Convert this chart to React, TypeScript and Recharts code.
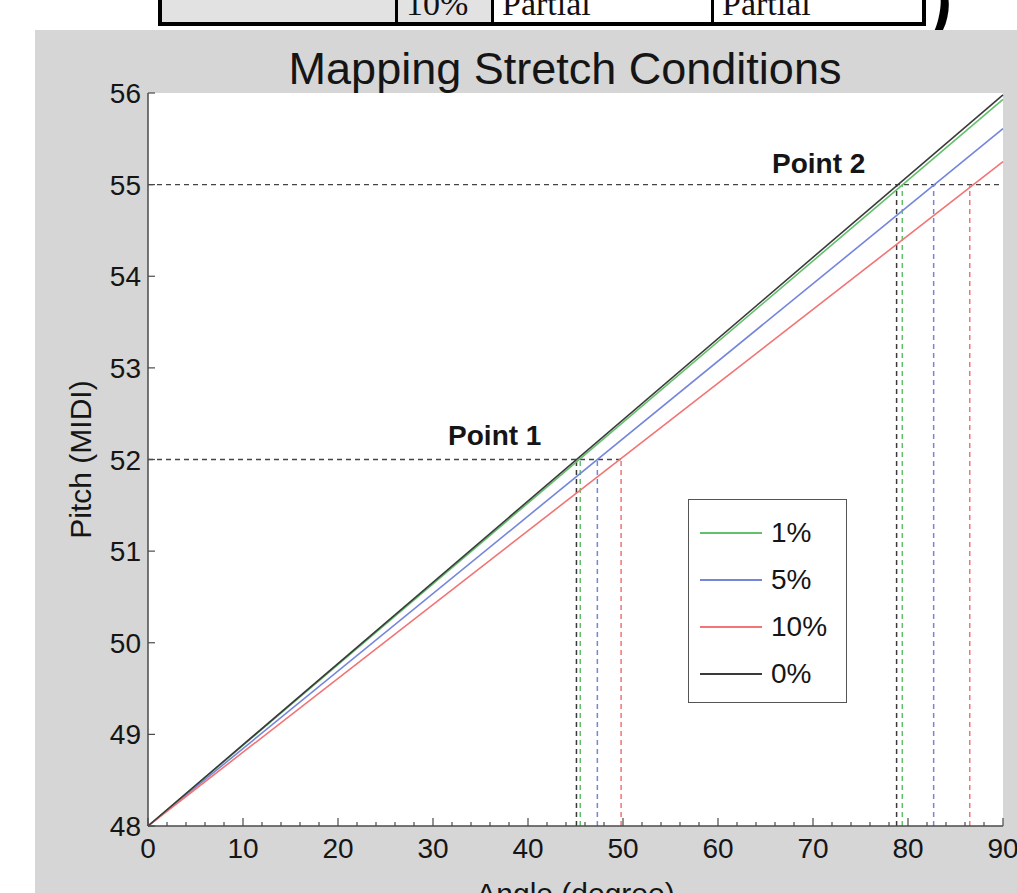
import React from "react";
import {
  LineChart,
  Line,
  XAxis,
  YAxis,
  CartesianGrid,
  ReferenceLine,
  ReferenceDot,
  Legend,
} from "recharts";

// angle (degree) -> pitch (MIDI), straight mappings
const angles = [0, 90];
const pitch1 = [48, 55.93];
const pitch5 = [48, 55.61];
const pitch10 = [48, 55.25];
const pitch0 = [48, 55.98];

const seriesNames = ["1%", "5%", "10%", "0%"];
const seriesKeys = ["s1", "s5", "s10", "s0"];
const seriesColors = ["#62c06a", "#7485db", "#f27474", "#3a3a3a"];

// where each mapping reaches the marked pitches (same order as seriesNames)
const point1Pitch = 52;
const point1Angles = [45.5, 47.3, 49.8, 45.1];
const point2Pitch = 55;
const point2Angles = [79.4, 82.7, 86.5, 78.8];

const pointLabels = ["Point 1", "Point 2"];
const pointLabelAngles = [36.5, 70.6];
const pointLabelPitches = [52.27, 55.24];

const xMajorTicks = [0, 10, 20, 30, 40, 50, 60, 70, 80, 90];
const xTicks = Array.from({ length: 46 }, (_, i) => i * 2);
const yTicks = [48, 49, 50, 51, 52, 53, 54, 55, 56];

// cut-off table row above the figure
const tableCells = ["", "10%", "Partial", "Partial"];
const tableCellWidths = [236, 96, 220, 216];
const tableCellShaded = [true, true, false, false];

const data = angles.map((a, i) => ({
  angle: a,
  s1: pitch1[i],
  s5: pitch5[i],
  s10: pitch10[i],
  s0: pitch0[i],
}));

const FONT = "'Liberation Sans', Arial, Helvetica, sans-serif";
const AXIS = "#4a4a4a";
const TEXT = "#151515";

const XTick = (props: any) => {
  const { x, y, payload, dir, showLabel } = props;
  const v = payload.value;
  const major = xMajorTicks.includes(v);
  const len = major ? 8 : 4;
  return (
    <g>
      <line x1={x} x2={x} y1={y} y2={y + dir * len} stroke={AXIS} strokeWidth={1.2} />
      {showLabel && major && (
        <text x={x} y={y + 32} textAnchor="middle" fontSize={28} fontFamily={FONT} fill={TEXT}>
          {v}
        </text>
      )}
    </g>
  );
};

const YTick = (props: any) => {
  const { x, y, payload, dir, showLabel } = props;
  return (
    <g>
      <line x1={x} x2={x + dir * 7} y1={y} y2={y} stroke={AXIS} strokeWidth={1.2} />
      {showLabel && (
        <text x={x - 7} y={y + 10} textAnchor="end" fontSize={28} fontFamily={FONT} fill={TEXT}>
          {payload.value}
        </text>
      )}
    </g>
  );
};

const LegendBox = () => (
  <div
    style={{
      width: 159,
      height: 204,
      boxSizing: "border-box",
      border: "1.5px solid #555",
      background: "#fff",
      fontFamily: FONT,
      paddingTop: 9,
    }}
  >
    {seriesNames.map((name, i) => (
      <div key={name} style={{ display: "flex", alignItems: "center", height: 47 }}>
        <div style={{ width: 62, height: 0, borderTop: `2px solid ${seriesColors[i]}`, marginLeft: 11 }} />
        <span style={{ marginLeft: 9, fontSize: 28, color: TEXT }}>{name}</span>
      </div>
    ))}
  </div>
);

export default function App() {
  return (
    <div style={{ position: "absolute", left: 0, top: 0, width: 1017, height: 893, background: "#fff", overflow: "hidden" }}>
      {/* table strip from the page above */}
      <div style={{ position: "absolute", left: 158, top: -12, width: 768, height: 38, boxSizing: "border-box", border: "4px solid #000", borderTop: "none", display: "flex" }}>
        {tableCells.map((t, i) => (
          <div
            key={i}
            style={{
              width: tableCellWidths[i],
              flex: i === tableCells.length - 1 ? 1 : undefined,
              background: tableCellShaded[i] ? "#e2e2e2" : "#fff",
              borderRight: i < tableCells.length - 1 ? "3px solid #000" : "none",
              position: "relative",
              boxSizing: "border-box",
            }}
          >
            {t && (
              <span
                style={{
                  position: "absolute",
                  left: 8,
                  top: 16,
                  fontFamily: "'Liberation Serif', serif",
                  fontSize: 34,
                  lineHeight: "0px",
                  color: "#111",
                }}
              >
                {t}
              </span>
            )}
          </div>
        ))}
      </div>
      <div style={{ position: "absolute", left: 930, top: -32, fontFamily: "'Liberation Serif', serif", fontSize: 70, fontStyle: "italic", fontWeight: 700, color: "#000" }}>)</div>

      <div style={{ position: "absolute", left: 35, top: 30, width: 982, height: 863, background: "#d6d6d6" }}>
        <div
          style={{
            position: "absolute",
            left: 0,
            width: 1060,
            top: 13,
            textAlign: "center",
            fontFamily: FONT,
            fontSize: 45,
            color: TEXT,
            lineHeight: "52px",
          }}
        >
          Mapping Stretch Conditions
        </div>
        <LineChart width={982} height={863} data={data} margin={{ top: 63, right: 14, bottom: 0, left: 0 }}>
          <CartesianGrid horizontal={false} vertical={false} fill="#fff" />
          <XAxis
            dataKey="angle"
            type="number"
            domain={[0, 90]}
            ticks={xTicks}
            interval={0}
            tickSize={0}
            tickMargin={0}
            height={67}
            axisLine={{ stroke: AXIS, strokeWidth: 1.5 }}
            tickLine={false}
            tick={<XTick dir={-1} showLabel />}
            label={{
              content: (p: any) => (
                <text
                  x={p.viewBox.x + p.viewBox.width / 2}
                  y={p.viewBox.y + 78}
                  textAnchor="middle"
                  fontSize={30}
                  fontFamily={FONT}
                  fill={TEXT}
                >
                  Angle (degree)
                </text>
              ),
            }}
          />
          <XAxis
            xAxisId="top"
            orientation="top"
            dataKey="angle"
            type="number"
            domain={[0, 90]}
            ticks={xTicks}
            interval={0}
            tickSize={0}
            tickMargin={0}
            height={0}
            axisLine={{ stroke: AXIS, strokeWidth: 1.5 }}
            tickLine={false}
            tick={<XTick dir={1} />}
          />
          <YAxis
            type="number"
            domain={[48, 56]}
            ticks={yTicks}
            interval={0}
            tickSize={0}
            tickMargin={0}
            width={113}
            axisLine={{ stroke: AXIS, strokeWidth: 1.5 }}
            tickLine={false}
            tick={<YTick dir={1} showLabel />}
            label={{
              content: (p: any) => {
                const cx = p.viewBox.x + 45;
                const cy = p.viewBox.y + p.viewBox.height / 2;
                return (
                  <text
                    x={cx}
                    y={cy}
                    transform={`rotate(-90 ${cx} ${cy})`}
                    textAnchor="middle"
                    dominantBaseline="central"
                    fontSize={30}
                    fontFamily={FONT}
                    fill={TEXT}
                  >
                    Pitch (MIDI)
                  </text>
                );
              },
            }}
          />
          <YAxis
            yAxisId="right"
            orientation="right"
            type="number"
            domain={[48, 56]}
            ticks={yTicks}
            interval={0}
            tickSize={0}
            tickMargin={0}
            width={0}
            axisLine={{ stroke: "#8a8a8a", strokeWidth: 3 }}
            tickLine={false}
            tick={<YTick dir={-1} />}
          />

          <ReferenceLine
            segment={[
              { x: 0, y: point1Pitch },
              { x: Math.max(...point1Angles), y: point1Pitch },
            ]}
            stroke="#444"
            strokeDasharray="5 4"
            strokeWidth={1.3}
          />
          <ReferenceLine
            segment={[
              { x: 0, y: point2Pitch },
              { x: 90, y: point2Pitch },
            ]}
            stroke="#444"
            strokeDasharray="5 4"
            strokeWidth={1.3}
          />
          {point1Angles.map((a, i) => (
            <ReferenceLine
              key={`p1-${i}`}
              segment={[
                { x: a, y: 48 },
                { x: a, y: point1Pitch },
              ]}
              stroke={seriesColors[i]}
              strokeDasharray="5 4"
              strokeWidth={1.5}
            />
          ))}
          {point2Angles.map((a, i) => (
            <ReferenceLine
              key={`p2-${i}`}
              segment={[
                { x: a, y: 48 },
                { x: a, y: point2Pitch },
              ]}
              stroke={seriesColors[i]}
              strokeDasharray="5 4"
              strokeWidth={1.5}
            />
          ))}

          {seriesKeys.map((k, i) => (
            <Line
              key={k}
              type="linear"
              dataKey={k}
              name={seriesNames[i]}
              stroke={seriesColors[i]}
              strokeWidth={1.6}
              dot={false}
              activeDot={false}
              isAnimationActive={false}
            />
          ))}

          {pointLabels.map((t, i) => (
            <ReferenceDot
              key={t}
              x={pointLabelAngles[i]}
              y={pointLabelPitches[i]}
              r={0}
              fill="none"
              stroke="none"
              label={{ value: t, position: "center", fontSize: 28, fontWeight: 700, fontFamily: FONT, fill: TEXT }}
            />
          ))}

          <Legend
            layout="vertical"
            align="center"
            verticalAlign="middle"
            content={() => <LegendBox />}
            wrapperStyle={{ left: 653, top: 469, width: 159, height: 204 }}
          />
        </LineChart>
      </div>
    </div>
  );
}
